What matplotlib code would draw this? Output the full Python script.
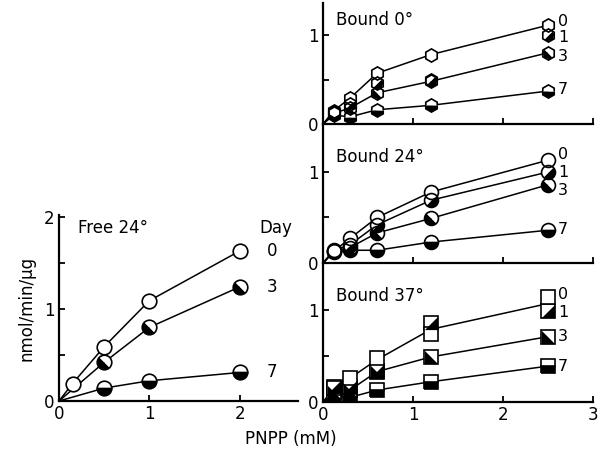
import numpy as np
import matplotlib
matplotlib.use("Agg")
import matplotlib.pyplot as plt
from matplotlib.markers import MarkerStyle
from matplotlib.transforms import Affine2D

# ---- data ----
days = [0, 1, 3, 7]

# Free enzyme, 24 deg
free_x = [0.15, 0.5, 1.0, 2.0]
free_day0 = [0.19, 0.59, 1.09, 1.63]
free_day3 = [0.19, 0.42, 0.80, 1.24]
free_day7 = [0.14, 0.14, 0.22, 0.31]
free_x7 = [0.5, 1.0, 2.0]

# Bound enzyme
bound_x = [0.12, 0.3, 0.6, 1.2, 2.5]

b0_day0 = [0.15, 0.29, 0.57, 0.78, 1.11]
b0_day1 = [0.13, 0.22, 0.46, 0.49, 1.00]
b0_day3 = [0.12, 0.18, 0.35, 0.48, 0.80]
b0_day7 = [0.10, 0.08, 0.16, 0.21, 0.37]

b24_day0 = [0.13, 0.27, 0.50, 0.78, 1.13]
b24_day1 = [0.14, 0.20, 0.42, 0.69, 1.00]
b24_day3 = [0.13, 0.17, 0.33, 0.49, 0.86]
b24_day7 = [0.12, 0.14, 0.14, 0.23, 0.36]

b37_day0 = [0.15, 0.26, 0.48, 0.74, 1.14]
b37_day1 = [0.16, 0.16, 0.34, 0.86, 0.99]
b37_day3 = [0.11, 0.13, 0.33, 0.49, 0.71]
b37_day7 = [0.08, 0.05, 0.13, 0.22, 0.39]
b37_day01 = [0.15, 0.26, 0.46, 0.79, 1.07]   # the single line through days 0 and 1

label_y = {
    "b0": [1.15, 0.97, 0.76, 0.39],
    "b24": [1.19, 0.99, 0.80, 0.37],
    "b37": [1.17, 0.97, 0.71, 0.39],
    "free": [1.63, 1.24, 0.31],
}

plt.rcParams["font.family"] = "DejaVu Sans"
plt.rcParams["font.size"] = 12

W, H = 598, 457
fig = plt.figure(figsize=(W / 100, H / 100), dpi=100)


def frac(x0, y0, x1, y1):
    return [x0 / W, 1 - y1 / H, (x1 - x0) / W, (y1 - y0) / H]


def style(ax, xlim, ylim, yticks, yminor, xticks, xlabels):
    ax.set_xlim(*xlim)
    ax.set_ylim(*ylim)
    for s in ["top", "right"]:
        ax.spines[s].set_visible(False)
    for s in ["left", "bottom"]:
        ax.spines[s].set_linewidth(1.6)
    ax.set_yticks(yticks)
    ax.set_yticks(yminor, minor=True)
    ax.set_xticks(xticks)
    ax.set_xticklabels(xlabels)
    ax.tick_params(which="both", direction="in", width=1.3, length=4, labelsize=12, pad=3)
    ax.tick_params(axis="x", which="both", top=False)


LW = 1.1


def plot_markers(ax, x, y, shape, day, ms):
    x = np.asarray(x)
    y = np.asarray(y)
    if day == 0:
        ax.plot(x, y, ls="none", marker=shape, ms=ms, mfc="white", mec="black", mew=1.2, zorder=3)
    elif day == 7:
        ax.plot(x, y, ls="none", marker=MarkerStyle(shape, fillstyle="bottom"), ms=ms,
                mfc="black", mfcalt="white", mec="black", mew=1.2, zorder=3)
    else:
        if shape == "s":
            ax.plot(x, y, ls="none", marker="s", ms=ms, mfc="white", mec="black", mew=1.2, zorder=3)
            if day == 1:
                tri = [(-1, -1), (1, -1), (1, 1), (-1, -1)]
            else:
                tri = [(-1, -1), (1, -1), (-1, 1), (-1, -1)]
            ax.plot(x, y, ls="none", marker=tri, ms=ms, mfc="black", mew=0, zorder=3.1)
        else:
            ang = 45 if day == 1 else -45
            m = MarkerStyle(shape, fillstyle="bottom", transform=Affine2D().rotate_deg(ang))
            fill_ms = ms * (0.93 if shape == "h" else 1.0)
            ax.plot(x, y, ls="none", marker=m, ms=fill_ms, mfc="black", mfcalt="white", mew=0, zorder=3)
            ax.plot(x, y, ls="none", marker=shape, ms=ms, mfc="none", mec="black", mew=1.2, zorder=3.1)


def line(ax, x, y):
    ax.plot([0] + list(x), [0] + list(y), color="black", lw=LW, zorder=2)


# ---- left panel: free enzyme ----
axf = fig.add_axes(frac(59, 401 - 2.02 * 92, 59 + 2.65 * 90.3, 401))
style(axf, (0, 2.65), (0, 2.02), [0, 1, 2], [0.5, 1.5], [0, 1, 2], ["0", "1", "2"])
line(axf, free_x, free_day0)
line(axf, free_x[1:], free_day3[1:])
line(axf, free_x7, free_day7[1:])
plot_markers(axf, free_x7, free_day7[1:], "o", 7, ms=10.5)
plot_markers(axf, free_x[1:], free_day3[1:], "o", 3, ms=10.5)
plot_markers(axf, free_x, free_day0, "o", 0, ms=10.5)
axf.text(0.21, 1.88, "Free 24°", ha="left", va="center")
axf.text(2.4, 1.88, "Day", ha="center", va="center")
for d, yy in zip([0, 3, 7], label_y["free"]):
    axf.text(2.36, yy, str(d), ha="center", va="center")
axf.set_ylabel("nmol/min/µg", fontsize=12, labelpad=6)

# ---- right panels: bound enzyme ----
panels = [
    ("b0", "Bound 0°", "h", [b0_day0, b0_day1, b0_day3, b0_day7], [b0_day0, b0_day3, b0_day7], 3, 124, 89),
    ("b24", "Bound 24°", "o", [b24_day0, b24_day1, b24_day3, b24_day7],
     [b24_day0, b24_day1, b24_day3, b24_day7], 124, 263, 91),
    ("b37", "Bound 37°", "s", [b37_day0, b37_day1, b37_day3, b37_day7],
     [b37_day01, b37_day3, b37_day7], 263, 402, 92),
]

for key, title, shape, series, lines, ytop, ybot, ppu in panels:
    ylim = (ybot - ytop) / ppu
    ax = fig.add_axes(frac(323, ytop, 323 + 3 * 90, ybot))
    bottom = key == "b37"
    style(ax, (0, 3), (0, ylim), [0, 1], [0.5], [0, 1, 2, 3],
          ["0", "1", "2", "3"] if bottom else ["", "", "", ""])
    if not bottom:
        ax.tick_params(axis="x", which="both", labelbottom=False)
    ax.patch.set_visible(False)
    for ly in lines:
        line(ax, bound_x, ly)
    ms = {"h": 9.5, "o": 10, "s": 9.5}[shape]
    for d, yv in zip(days[::-1], series[::-1]):
        plot_markers(ax, bound_x, yv, shape, d, ms=ms)
    ax.text(0.15, 1.17 if key != "b37" else 1.15, title, ha="left", va="center")
    for d, yy in zip(days, label_y[key]):
        ax.text(2.67, yy, str(d), ha="center", va="center", fontsize=11.5)
    if bottom:
        ax.set_xlabel("PNPP (mM)", fontsize=12)
        ax.xaxis.set_label_coords(-0.12, -0.2)

fig.savefig("out.png", dpi=100)
